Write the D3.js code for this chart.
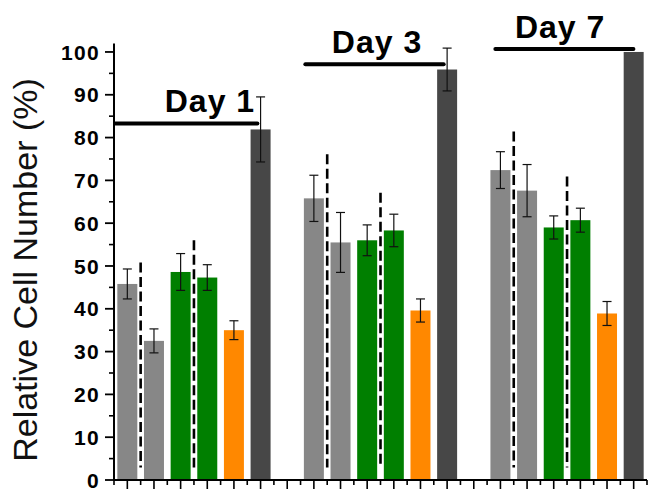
<!DOCTYPE html>
<html>
<head>
<meta charset="utf-8">
<script src="https://cdn.jsdelivr.net/npm/d3@7"></script>
<style>
  html, body { margin: 0; padding: 0; background: #fff; }
  svg { display: block; font-family: Arial, "Liberation Sans", sans-serif; }
</style>
</head>
<body>
<svg id="chart" width="658" height="496"></svg>
<script>
// ---- data ----
const days = ["Day 1", "Day 3", "Day 7"];
const barKinds = ["gray", "gray", "green", "green", "orange", "dark"];
const day1Means = [45.8, 32.5, 48.6, 47.3, 35.0, 81.9];
const day1Errors = [3.5, 2.8, 4.3, 3.0, 2.2, 7.6];
const day3Means = [65.8, 55.5, 56.0, 58.3, 39.6, 95.9];
const day3Errors = [5.4, 7.0, 3.6, 3.8, 2.7, 5.0];
const day7Means = [72.4, 67.6, 59.0, 60.7, 38.9, 100.0];
const day7Errors = [4.3, 6.1, 2.7, 2.8, 2.8, 0];
// dashed separators: top value of the divider after bar 1 and after bar 3 of each day
const dividerTops = [[50.8, 56.0], [76.1, 67.1], [81.4, 70.9]];
// day bracket level (in % units) and span (in slot units)
const bracketLevels = [83.3, 97.1, 100.7];
const bracketStarts = [-0.45, 6.68, 13.81];
const bracketEnds = [4.88, 11.87, 18.99];
const labelCenters = [3.1, 9.37, 16.24];
const yTicks = [0, 10, 20, 30, 40, 50, 60, 70, 80, 90, 100];
const yLabel = "Relative Cell Number (%)";

const means = [day1Means, day3Means, day7Means];
const errors = [day1Errors, day3Errors, day7Errors];
const colors = { gray: "#878787", green: "#007f00", orange: "#ff8800", dark: "#474747" };

const svg = d3.select("#chart");
const x = d3.scaleLinear().domain([-0.5, 19.5]).range([114, 647]);
const y = d3.scaleLinear().domain([0, 102]).range([480, 43.4]);
const barW = (x(1) - x(0)) * 0.75;

const bars = [];
days.forEach((d, g) => {
  means[g].forEach((v, i) => {
    bars.push({ slot: g * 7 + i, value: v, err: errors[g][i], kind: barKinds[i] });
  });
});

// bars
svg.append("g").selectAll("rect").data(bars).join("rect")
  .attr("x", d => x(d.slot) - barW / 2)
  .attr("width", barW)
  .attr("y", d => y(d.value))
  .attr("height", d => y(0) - y(d.value))
  .attr("fill", d => colors[d.kind]);

// error bars
const eb = svg.append("g").attr("stroke", "#111").attr("stroke-width", 1.2);
bars.filter(d => d.err > 0).forEach(d => {
  const cx = x(d.slot);
  eb.append("line").attr("x1", cx).attr("x2", cx).attr("y1", y(d.value + d.err)).attr("y2", y(d.value - d.err));
  eb.append("line").attr("x1", cx - 4.5).attr("x2", cx + 4.5).attr("y1", y(d.value + d.err)).attr("y2", y(d.value + d.err));
  eb.append("line").attr("x1", cx - 4.5).attr("x2", cx + 4.5).attr("y1", y(d.value - d.err)).attr("y2", y(d.value - d.err));
});

// dashed dividers
const dividers = [];
dividerTops.forEach((tops, g) => {
  dividers.push({ slot: g * 7 + 0.5, top: tops[0] });
  dividers.push({ slot: g * 7 + 2.5, top: tops[1] });
});
svg.append("g").selectAll("line").data(dividers).join("line")
  .attr("x1", d => x(d.slot)).attr("x2", d => x(d.slot))
  .attr("y1", d => y(d.top)).attr("y2", y(2.9))
  .attr("stroke", "#000").attr("stroke-width", 2.6)
  .attr("stroke-dasharray", "10,4.5");

// day brackets
days.forEach((d, g) => {
  svg.append("line")
    .attr("x1", x(bracketStarts[g])).attr("x2", x(bracketEnds[g]))
    .attr("y1", y(bracketLevels[g])).attr("y2", y(bracketLevels[g]))
    .attr("stroke", "#000").attr("stroke-width", 4).attr("stroke-linecap", "round");
  svg.append("text")
    .attr("x", x(labelCenters[g])).attr("y", y(bracketLevels[g]) - 11)
    .attr("text-anchor", "middle")
    .attr("font-size", 32).attr("font-weight", "bold")
    .attr("letter-spacing", "1px")
    .text(d);
});

// y axis
const yAxis = svg.append("g").attr("transform", `translate(${x(-0.5)},0)`);
yAxis.append("line").attr("x1", 0).attr("x2", 0).attr("y1", y(0)).attr("y2", y(102))
  .attr("stroke", "#000").attr("stroke-width", 2);
const yMinor = d3.range(5, 100, 10);
yAxis.selectAll(".ymin").data(yMinor).join("line")
  .attr("x1", -5).attr("x2", 0).attr("y1", d => y(d)).attr("y2", d => y(d))
  .attr("stroke", "#000").attr("stroke-width", 1.6);
yAxis.selectAll(".ymaj").data(yTicks).join("line")
  .attr("x1", -9).attr("x2", 0).attr("y1", d => y(d)).attr("y2", d => y(d))
  .attr("stroke", "#000").attr("stroke-width", 1.8);
yAxis.selectAll("text").data(yTicks).join("text")
  .attr("x", -14).attr("y", d => y(d)).attr("dy", "0.36em")
  .attr("text-anchor", "end")
  .attr("font-size", 21).attr("font-weight", "bold")
  .attr("letter-spacing", "1.3px")
  .text(d => d);

// x axis
const xAxis = svg.append("g").attr("transform", `translate(0,${y(0)})`);
xAxis.append("line").attr("x1", x(-0.5)).attr("x2", x(19.5)).attr("y1", 0).attr("y2", 0)
  .attr("stroke", "#000").attr("stroke-width", 2);
xAxis.selectAll(".xmaj").data(d3.range(0, 20)).join("line")
  .attr("x1", d => x(d)).attr("x2", d => x(d)).attr("y1", 0).attr("y2", 9)
  .attr("stroke", "#000").attr("stroke-width", 1.6);
xAxis.selectAll(".xmin").data(d3.range(-0.5, 20, 1)).join("line")
  .attr("x1", d => x(d)).attr("x2", d => x(d)).attr("y1", 0).attr("y2", 5)
  .attr("stroke", "#000").attr("stroke-width", 1.6);

// y label
svg.append("text")
  .attr("transform", "translate(37,270) rotate(-90)")
  .attr("text-anchor", "middle")
  .attr("font-size", 34)
  .attr("fill", "#111")
  .text(yLabel);
</script>
</body>
</html>
